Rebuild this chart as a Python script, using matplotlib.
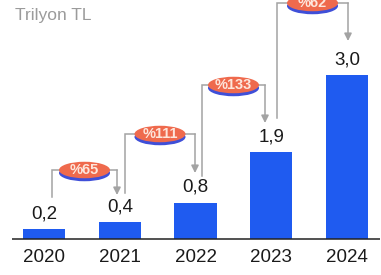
import matplotlib
matplotlib.use("Agg")
import matplotlib.pyplot as plt
from matplotlib import font_manager
from matplotlib.patches import Ellipse

# ---- data ----
years = ["2020", "2021", "2022", "2023", "2024"]
bar_heights = [0.18, 0.31, 0.66, 1.59, 3.0]   # heights as drawn in the picture
value_labels = ["0,2", "0,4", "0,8", "1,9", "3,0"]
growth_labels = ["%65", "%111", "%133", "%62"]
unit_label = "Trilyon TL"

# ---- fonts ----
names = {f.name for f in font_manager.fontManager.ttflist}
num_font = "Liberation Sans Narrow" if "Liberation Sans Narrow" in names else "Liberation Sans"
title_font = "Liberation Sans"

W, H = 381, 275
fig = plt.figure(figsize=(W / 100, H / 100), dpi=100)
ax = fig.add_axes([0, 0, 1, 1])
ax.axis("off")

# pixel <-> data mapping
x0_px, step_px = 44.0, 75.75
base_px, unit_px = 239.0, 54.67
ax.set_xlim(-x0_px / step_px, (W - x0_px) / step_px)
ax.set_ylim(-(H - base_px) / unit_px, base_px / unit_px)

def px_x(px):
    return (px - x0_px) / step_px

def px_y(py):
    return (base_px - py) / unit_px

bar_color = "#1f5bf0"
gray = "#a3a3a3"
pill_color = "#ef6a4d"
pill_shadow = "#3f4fd8"

xs = list(range(len(years)))
ax.bar(xs, bar_heights, width=0.555, color=bar_color, zorder=2)

# baseline
ax.plot([px_x(12), px_x(380)], [0, 0], color="#222222", lw=1.1, zorder=3, solid_capstyle="butt")

# year labels
for x, yr in zip(xs, years):
    ax.text(x, px_y(257), yr, ha="center", va="center", fontsize=13.5,
            family=num_font, color="#1a1a1a")

# value labels
for x, h, lab in zip(xs, bar_heights, value_labels):
    ax.annotate(lab, (x, h), xytext=(0, 5), textcoords="offset points",
                ha="center", va="bottom", fontsize=13.5, family=num_font, color="#1a1a1a")

# title
ax.text(px_x(15), px_y(15), unit_label, ha="left", va="center", fontsize=12.5,
        family=title_font, color="#9b9b9b")

# connectors (pixel layout)
conn = [
    # left_x, start_y, top_y, right_x, tip_y
    (52, 197, 170, 117, 195),
    (125, 193, 134, 195, 173),
    (202, 176, 85, 265, 123),
    (277, 118, 3, 348, 41),
]
for (lx, sy, ty, rx, tip), g in zip(conn, growth_labels):
    ax.plot([px_x(lx), px_x(lx), px_x(rx)], [px_y(sy), px_y(ty), px_y(ty)],
            color=gray, lw=1.1, zorder=3, solid_joinstyle="miter")
    ax.annotate("", xy=(px_x(rx), px_y(tip)), xytext=(px_x(rx), px_y(ty)),
                arrowprops=dict(arrowstyle="-|>", color=gray, lw=1.1,
                                mutation_scale=11, shrinkA=0, shrinkB=0), zorder=3)
    cx = px_x((lx + rx) / 2)
    cy = px_y(ty)
    ew, eh = 51 / step_px, 16.5 / unit_px
    ax.add_patch(Ellipse((cx, cy - 3 / unit_px), ew, eh, color=pill_shadow, zorder=4, lw=0))
    ax.add_patch(Ellipse((cx, cy), ew, eh, color=pill_color, zorder=5, lw=0))
    ax.text(cx, cy + 0.5 / unit_px, g, ha="center", va="center", fontsize=10.5,
            fontweight="bold", family=num_font, color="#fde6dc", zorder=6)

fig.savefig("out.png", dpi=100)
